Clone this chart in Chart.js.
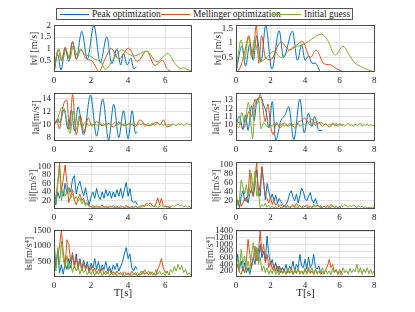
<!DOCTYPE html>
<html>
<head>
<meta charset="utf-8">
<script src="https://cdn.jsdelivr.net/npm/chart.js@4/dist/chart.umd.min.js"></script>
<style>
html, body { margin: 0; padding: 0; background: #fff; }
#wrap { position: relative; width: 415px; height: 312px; overflow: hidden; }
#wrap canvas { position: absolute; }
#legend { position: absolute; left: 56px; top: 8px; width: 297px; height: 12px; border: 1px solid #555; background: #fff;
  font: 9.5px "Liberation Serif", serif; color: #222; box-sizing: border-box; }
.item { position: absolute; top: 0; line-height: 10px; white-space: nowrap; }
.item i { display: inline-block; width: 29px; height: 0; border-top: 1px solid; vertical-align: middle; margin-right: 3px; }
</style>
</head>
<body>
<div id="wrap">
  <div id="legend">
    <span class="item" style="left:3px"><i style="border-color:#0072BD"></i>Peak optimization</span>
    <span class="item" style="left:104px"><i style="border-color:#D95319"></i>Mellinger optimization</span>
    <span class="item" style="left:215px"><i style="border-color:#77AC30"></i>Initial guess</span>
  </div>
</div>
<script>
const COLORS = ['#0072BD', '#D95319', '#77AC30'];
const NAMES = ['Peak optimization', 'Mellinger optimization', 'Initial guess'];

// tick labels
const xTicksL = [0, 2, 4, 6];
const xTicksR = [0, 2, 4, 6, 8];
const vTicksL = [0.5, 1, 1.5, 2];
const vTicksR = [0.5, 1, 1.5];
const aTicksL = [8, 10, 12, 14];
const aTicksR = [9, 10, 11, 12, 13];
const jTicks = [20, 40, 60, 80, 100];
const sTicksL = [500, 1000, 1500];
const sTicksR = [200, 400, 600, 800, 1000, 1200, 1400];

// ---- velocity, left run (time s, |v| m/s)
const vL_peak_t = [0, 0.2, 0.38, 0.6, 0.8, 1.0, 1.2, 1.5, 1.8, 2.15, 2.5, 2.85, 3.12, 3.4, 3.6, 3.75, 3.95, 4.15, 4.3, 4.45];
const vL_peak   = [0, 0.75, 0.08, 1.05, 0.45, 1.3, 0.55, 1.75, 0.55, 2.0, 0.4, 1.5, 0.35, 1.0, 0.3, 0.8, 0.3, 0.6, 0.15, 0.2];
const vL_mell_t = [0, 0.22, 0.4, 0.6, 0.8, 1.0, 1.2, 1.45, 1.75, 2.0, 2.2, 2.42, 2.75, 3.1, 3.5, 4.02, 4.5, 5.0, 5.45, 5.85, 6.1, 6.35];
const vL_mell   = [0, 0.95, 0.5, 1.05, 0.6, 1.3, 0.55, 0.95, 0.55, 0.5, 0.3, 0.0, 0.55, 1.0, 0.55, 1.02, 0.45, 0.9, 0.28, 0.5, 0.15, 0.0];
const vL_init_t = [0, 0.25, 0.45, 0.65, 0.85, 1.05, 1.25, 1.45, 1.65, 1.9, 2.2, 2.5, 2.78, 3.2, 3.65, 4.3, 5.0, 5.57, 6.14, 6.55, 6.85, 7.0, 7.15, 7.45];
const vL_init   = [0, 1.0, 0.5, 0.95, 0.55, 1.15, 0.7, 1.0, 0.75, 0.7, 0.55, 0.45, 0.12, 0.55, 0.95, 0.68, 0.9, 0.44, 0.8, 0.35, 0.15, 0.18, 0.12, 0.02];

// ---- velocity, right run
const vR_peak_t = [0, 0.35, 0.55, 0.8, 1.0, 1.2, 1.45, 1.72, 2.08, 2.5, 2.75, 3.27, 3.56, 3.8, 4.0, 4.2, 4.4, 4.6, 4.87];
const vR_peak   = [0, 0.9, 0.2, 0.95, 0.4, 1.25, 0.35, 1.6, 0.1, 1.42, 0.5, 1.4, 0.4, 0.93, 0.4, 0.55, 0.3, 0.3, 0.0];
const vR_mell_t = [0, 0.2, 0.45, 0.75, 0.95, 1.18, 1.32, 1.48, 1.7, 2.0, 2.6, 3.1, 3.85, 4.3, 4.65, 5.1, 5.45, 5.8, 6.2];
const vR_mell   = [0, 0.1, 0.55, 1.25, 0.5, 1.6, 0.3, 1.25, 0.5, 0.42, 1.03, 0.75, 1.05, 0.5, 0.75, 0.28, 0.25, 0.12, 0.0];
const vR_init_t = [0, 0.3, 0.5, 0.72, 0.9, 1.05, 1.25, 1.5, 1.85, 2.2, 2.6, 3.0, 3.3, 3.7, 4.2, 4.6, 4.95, 5.3, 5.75, 6.2, 6.6, 6.9, 7.2, 7.6, 8.05];
const vR_init   = [0, 1.1, 0.4, 1.2, 0.5, 1.1, 0.7, 0.38, 0.55, 0.72, 0.5, 0.7, 0.85, 0.9, 1.05, 1.22, 1.3, 1.1, 0.58, 0.88, 0.55, 0.3, 0.2, 0.08, 0.0];

// ---- acceleration, left run (|a| m/s^2)
const aL_peak_t = [0, 0.1, 0.2, 0.3, 0.55, 0.75, 0.95, 1.1, 1.3, 1.6, 1.97, 2.3, 2.63, 2.95, 3.22, 3.5, 3.75, 4.0, 4.22, 4.4, 4.48];
const aL_peak   = [10, 10.2, 10.9, 10.2, 12.3, 9.3, 12.2, 9.0, 12.7, 8.4, 14.5, 8.2, 13.9, 7.6, 13.1, 8.0, 12.1, 7.8, 12.1, 8.6, 8.9];
const aL_mell_t = [0, 0.15, 0.3, 0.45, 0.68, 0.85, 1.0, 1.2, 1.42, 1.62, 1.85, 2.05, 2.3, 2.6, 2.9, 3.2, 3.5, 3.8, 4.1, 4.4, 4.65, 4.9, 5.2, 5.5, 5.75, 5.9, 6.1, 6.35];
const aL_mell   = [10, 10.6, 9.3, 12.3, 13.8, 9.2, 14.6, 8.4, 11.4, 8.7, 11.0, 9.7, 10.4, 9.8, 10.2, 9.6, 10.3, 9.8, 10.1, 9.7, 10.7, 10.0, 9.8, 10.3, 10.0, 10.7, 9.6, 10.0];
const aL_init_t = [0, 0.15, 0.3, 0.42, 0.55, 0.7, 0.87, 1.05, 1.2, 1.35, 1.5, 1.7, 1.9];
const aL_init   = [10, 10.4, 11.8, 12.6, 12.4, 10.5, 8.6, 12.0, 9.2, 11.2, 9.5, 10.4, 9.8];
const aL_init_tail = [ // from 2.0 s, every 0.1 s
  10.1, 9.9, 10.2, 9.8, 10.0, 10.3, 9.9, 10.1, 9.7, 10.0,
  10.2, 9.9, 10.1, 10.3, 9.8, 10.0, 10.2, 9.9, 10.1, 9.8,
  10.0, 10.2, 9.9, 10.3, 10.0, 9.8, 10.1, 9.9, 10.2, 9.7,
  10.0, 10.1, 9.8, 10.2, 9.9, 10.0, 10.3, 9.9, 10.1, 9.8,
  10.2, 9.9, 10.0, 9.7, 10.1, 10.0, 9.8, 10.2, 9.9, 10.1,
  9.8, 10.0, 10.2, 9.9, 10.0];

// ---- acceleration, right run
const aR_peak_t = [0, 0.2, 0.4, 0.55, 0.7, 0.9, 1.05, 1.2, 1.45, 1.6, 1.75, 1.9, 2.1, 2.3, 2.6, 2.85, 3.05, 3.35, 3.7, 3.95, 4.2, 4.4, 4.55, 4.8, 5.0];
const aR_peak   = [10, 11.0, 9.4, 11.2, 9.3, 12.3, 10.5, 12.8, 13.3, 12.4, 11.5, 9.6, 12.8, 8.1, 10.5, 11.2, 12.2, 8.2, 13.1, 9.0, 11.4, 9.8, 11.0, 9.3, 9.3];
const aR_mell_t = [0, 0.2, 0.4, 0.55, 0.75, 0.9, 1.1, 1.25, 1.4, 1.55, 1.68, 1.85, 2.0, 2.15, 2.35, 2.55, 2.8, 3.0, 3.2, 3.4, 3.6, 3.8, 4.0, 4.2, 4.4, 4.6, 4.8, 5.0, 5.2, 5.4, 5.6, 5.8, 6.0, 6.2];
const aR_mell   = [10, 10.3, 9.5, 10.0, 11.6, 11.0, 13.1, 12.6, 13.7, 12.2, 10.4, 12.5, 10.0, 8.8, 10.3, 9.6, 10.2, 9.8, 10.1, 9.6, 10.3, 10.5, 10.8, 10.2, 10.7, 9.9, 10.3, 9.8, 10.1, 9.7, 10.2, 9.9, 10.1, 9.8];
const aR_init_t = [0, 0.15, 0.33, 0.5, 0.72, 0.85, 0.96, 1.1, 1.3, 1.45, 1.6, 1.8];
const aR_init   = [10, 9.6, 11.5, 10.2, 12.7, 10.5, 8.3, 12.4, 13.2, 9.5, 10.3, 9.8];
const aR_init_tail = [ // from 2.0 s, every 0.1 s
  10.0, 9.8, 10.1, 9.9, 10.2, 9.7, 10.0, 10.1, 9.8, 10.0,
  9.9, 10.2, 9.8, 10.0, 10.1, 9.9, 10.2, 9.8, 10.0, 10.1,
  9.9, 10.0, 10.2, 9.9, 10.1, 10.3, 10.2, 10.4, 10.1, 10.3,
  10.2, 10.0, 10.1, 9.9, 10.0, 9.8, 10.1, 9.9, 10.2, 9.8,
  10.0, 9.9, 10.1, 9.8, 10.0, 10.2, 9.9, 10.0, 9.8, 10.1,
  9.9, 10.0, 10.2, 9.8, 10.0, 9.9, 10.1, 9.8, 10.0, 9.9, 9.9];

// ---- jerk (|j| m/s^3), sampled every 0.1 s from 0
const jL_peak = [45, 10, 40, 25, 45, 30, 60, 35, 50, 40, 70, 78, 35, 55, 65, 45, 30, 50, 25, 10,
  30, 40, 25, 48, 30, 22, 40, 25, 45, 30, 42, 25, 40, 28, 45, 30, 48, 25, 45, 62, 30, 48, 20, 15, 18, 10];
const jL_mell = [15, 30, 60, 108, 40, 70, 103, 60, 15, 30, 45, 20, 10, 25, 35, 20, 25, 12, 15, 8,
  5, 8, 4, 7, 3, 6, 9, 4, 6, 3, 7, 5, 8, 4, 6, 3, 7, 5, 4, 8, 5, 3, 6, 4, 7, 3, 5, 4, 8, 6,
  14, 10, 15, 8, 5, 12, 26, 10, 25, 8, 5, 7, 3, 4];
const jL_init = [30, 15, 60, 95, 20, 45, 30, 40, 50, 25, 35, 22, 30, 18, 25, 12, 20, 8, 12, 5,
  6, 3, 5, 4, 6, 3, 5, 4, 2, 5, 3, 6, 4, 3, 5, 2, 4, 6, 3, 5, 4, 2, 5, 3, 6, 4, 5, 8, 6, 9,
  7, 10, 6, 8, 5, 7, 4, 6, 9, 5, 7, 4, 6, 5, 8, 6, 9, 12, 7, 9, 5, 7, 4, 6, 3];
const jR_peak = [10, 20, 5, 30, 42, 20, 28, 15, 35, 45, 30, 55, 88, 40, 30, 95, 60, 22, 58, 40,
  25, 35, 20, 32, 15, 25, 18, 12, 8, 12, 20, 35, 42, 28, 20, 35, 15, 30, 48, 40,
  25, 20, 30, 38, 22, 15, 25, 12, 8, 6, 4];
const jR_mell = [10, 18, 22, 8, 15, 25, 18, 35, 88, 40, 30, 70, 104, 30, 55, 93, 60, 30, 25, 15,
  28, 12, 20, 10, 15, 8, 12, 6, 9, 7, 10, 6, 8, 12, 7, 15, 8, 10, 6, 9,
  7, 11, 6, 9, 5, 12, 8, 10, 6, 8, 5, 9, 6, 10, 7, 12, 8, 6, 9, 5, 7, 4, 3];
const jR_init = [40, 10, 22, 65, 50, 35, 55, 30, 45, 80, 40, 85, 30, 40, 5, 12, 8, 15, 6, 10,
  5, 8, 4, 7, 5, 9, 4, 6, 8, 5, 7, 4, 6, 9, 5, 7, 4, 8, 6, 5,
  9, 6, 4, 7, 5, 8, 6, 10, 7, 9, 6, 8, 5, 7, 4, 6, 9, 5, 7, 4,
  6, 10, 7, 12, 8, 6, 10, 7, 11, 8, 5, 9, 6, 8, 5, 7, 4, 6, 5, 7, 4];

// ---- snap (|s| m/s^4), sampled every 0.1 s from 0
const sL_peak = [1200, 300, 850, 150, 400, 100, 450, 250, 600, 300, 700, 400, 750, 350, 600, 250, 550, 300, 500, 200,
  450, 300, 600, 250, 500, 200, 400, 250, 500, 200, 350, 150, 400, 250, 450, 200, 350, 500, 750, 950,
  600, 750, 300, 200, 350, 250];
const sL_mell = [300, 500, 700, 1000, 1500, 800, 400, 1200, 1050, 500, 800, 300, 650, 250, 550, 200, 450, 250, 400, 150,
  350, 200, 300, 120, 250, 150, 300, 100, 200, 120, 250, 100, 180, 80, 200, 100, 150, 60, 180, 100,
  140, 60, 200, 90, 150, 50, 120, 80, 200, 100, 150, 70, 180, 90, 130, 60, 250, 400, 600, 300,
  150, 200, 80, 100];
const sL_init = [500, 200, 950, 400, 1150, 600, 300, 700, 250, 450, 150, 400, 200, 350, 100, 300, 150, 250, 80, 200,
  100, 220, 60, 180, 90, 200, 50, 150, 80, 180, 60, 140, 70, 160, 50, 120, 80, 150, 40, 110,
  70, 130, 50, 120, 80, 160, 60, 200, 100, 250, 120, 200, 90, 180, 70, 250, 100, 200, 80, 150,
  60, 180, 100, 250, 150, 350, 200, 420, 250, 380, 150, 250, 80, 150, 60];
const sR_peak = [400, 700, 250, 500, 200, 450, 150, 300, 100, 350, 600, 400, 900, 500, 1000, 600, 800, 500, 1250, 700,
  400, 550, 250, 450, 200, 350, 150, 300, 200, 400, 150, 350, 250, 500, 200, 400, 300, 700, 350, 300,
  550, 250, 620, 300, 400, 700, 300, 250, 350, 150, 100];
const sR_mell = [200, 400, 150, 100, 300, 150, 500, 1150, 700, 300, 600, 950, 500, 800, 1400, 700, 1000, 450, 700, 300,
  500, 250, 400, 200, 350, 150, 300, 120, 250, 100, 220, 150, 300, 100, 200, 120, 250, 150, 200, 100,
  250, 150, 300, 120, 200, 100, 250, 150, 200, 100, 180, 120, 250, 350, 550, 300, 400, 150, 250, 100,
  200, 80, 120];
const sR_init = [300, 600, 200, 850, 400, 650, 250, 500, 200, 700, 1050, 600, 900, 400, 600, 200, 350, 150, 300, 100,
  250, 120, 300, 100, 200, 80, 250, 120, 200, 100, 280, 120, 200, 90, 250, 150, 300, 100, 200, 120,
  280, 100, 220, 150, 300, 120, 250, 100, 200, 150, 300, 100, 250, 120, 200, 90, 280, 150, 220, 100,
  250, 130, 300, 150, 220, 100, 280, 150, 250, 180, 400, 150, 300, 100, 250, 150, 300, 120, 250, 100, 200];

function pts(t, y) { return t.map((x, i) => ({ x: x, y: y[i] })); }
function grid(y, t0) { return y.map((v, i) => ({ x: Math.round((t0 + i * 0.1) * 100) / 100, y: v })); }

const cols = [{ x0: 54, x1: 192, xmax: 7.45, ticks: xTicksL }, { x0: 236, x1: 375, xmax: 8.05, ticks: xTicksR }];
const rows = [[23, 72], [91, 141], [160, 209], [228, 277]];

const panels = [
  { c: 0, r: 0, tc: 34, title: '‖v‖ [m/s]', min: 0, max: 2, ticks: vTicksL, smooth: true,
    series: [pts(vL_peak_t, vL_peak), pts(vL_mell_t, vL_mell), pts(vL_init_t, vL_init)] },
  { c: 1, r: 0, tc: 218, title: '‖v‖ [m/s]', min: 0, max: 1.6, ticks: vTicksR, smooth: true,
    series: [pts(vR_peak_t, vR_peak), pts(vR_mell_t, vR_mell), pts(vR_init_t, vR_init)] },
  { c: 0, r: 1, tc: 36, title: '‖a‖[m/s²]', min: 7.45, max: 14.75, ticks: aTicksL, smooth: true,
    series: [pts(aL_peak_t, aL_peak), pts(aL_mell_t, aL_mell), pts(aL_init_t, aL_init).concat(grid(aL_init_tail, 2.0))] },
  { c: 1, r: 1, tc: 216, title: '‖a‖[m/s²]', min: 8.02, max: 13.8, ticks: aTicksR, smooth: true,
    series: [pts(aR_peak_t, aR_peak), pts(aR_mell_t, aR_mell), pts(aR_init_t, aR_init).concat(grid(aR_init_tail, 2.0))] },
  { c: 0, r: 2, tc: 33, title: '‖j‖[m/s³]', min: 0, max: 109, ticks: jTicks, smooth: false,
    series: [grid(jL_peak, 0), grid(jL_mell, 0), grid(jL_init, 0)] },
  { c: 1, r: 2, tc: 216, title: '‖j‖[m/s³]', min: 2, max: 104, ticks: jTicks, smooth: false,
    series: [grid(jR_peak, 0), grid(jR_mell, 0), grid(jR_init, 0)] },
  { c: 0, r: 3, tc: 29, title: '‖s‖[m/s⁴]', min: 10, max: 1500, ticks: sTicksL, smooth: false,
    series: [grid(sL_peak, 0), grid(sL_mell, 0), grid(sL_init, 0)] },
  { c: 1, r: 3, tc: 210, title: '‖s‖[m/s⁴]', min: 20, max: 1420, ticks: sTicksR, smooth: false,
    series: [grid(sR_peak, 0), grid(sR_mell, 0), grid(sR_init, 0)] }
];

const SERIF = '"Liberation Serif", "DejaVu Serif", serif';
const INK = '#262626';

const frame = {
  id: 'frame',
  afterDraw(ch) {
    const a = ch.chartArea, g = ch.ctx;
    g.save();
    g.strokeStyle = '#4a4a4a';
    g.lineWidth = 1;
    g.strokeRect(Math.round(a.left) + 0.5, Math.round(a.top) + 0.5,
      Math.round(a.right - a.left) - 1, Math.round(a.bottom - a.top) - 1);
    g.restore();
  }
};

const wrap = document.getElementById('wrap');
panels.forEach(p => {
  const c = cols[p.c], r = rows[p.r];
  const last = p.r === 3;
  const H = last ? 23 : 14;
  const left = p.tc - 6, top = r[0] - 6;
  const cv = document.createElement('canvas');
  cv.width = c.x1 + 6 - left;
  cv.height = 6 + (r[1] - r[0]) + H;
  cv.style.left = left + 'px';
  cv.style.top = top + 'px';
  wrap.appendChild(cv);
  new Chart(cv, {
    type: 'line',
    data: {
      datasets: p.series.map((d, i) => ({
        label: NAMES[i], data: d, borderColor: COLORS[i], borderWidth: 1,
        pointRadius: 0, fill: false, order: 3 - i,
        tension: p.smooth ? 0.4 : 0,
        cubicInterpolationMode: p.smooth ? 'monotone' : 'default'
      }))
    },
    options: {
      responsive: false, animation: false, devicePixelRatio: 1,
      layout: { padding: { top: 6, right: 6, left: 0, bottom: 0 } },
      plugins: { legend: { display: false }, tooltip: { enabled: false } },
      scales: {
        x: {
          type: 'linear', min: 0, max: c.xmax,
          afterBuildTicks: s => { s.ticks = c.ticks.map(v => ({ value: v })); },
          afterFit: s => { s.height = H; },
          grid: { color: '#e3e3e3', drawTicks: false },
          border: { display: false },
          ticks: { padding: 3, maxRotation: 0, autoSkip: false,
            color: INK, font: { family: SERIF, size: 9 }, callback: v => String(v) },
          title: { display: last, text: 'T[s]', padding: 0, color: INK, font: { family: SERIF, size: 11 } }
        },
        y: {
          type: 'linear', min: p.min, max: p.max,
          afterBuildTicks: s => { s.ticks = p.ticks.map(v => ({ value: v })); },
          afterFit: s => { s.width = c.x0 - left; },
          grid: { color: '#e3e3e3', drawTicks: false },
          border: { display: false },
          ticks: { padding: 3, autoSkip: false,
            color: INK, font: { family: SERIF, size: 9 }, callback: v => String(v) },
          title: { display: true, text: p.title, padding: 0, color: '#444', font: { family: SERIF, size: 10 } }
        }
      }
    },
    plugins: [frame]
  });
});
</script>
</body>
</html>
